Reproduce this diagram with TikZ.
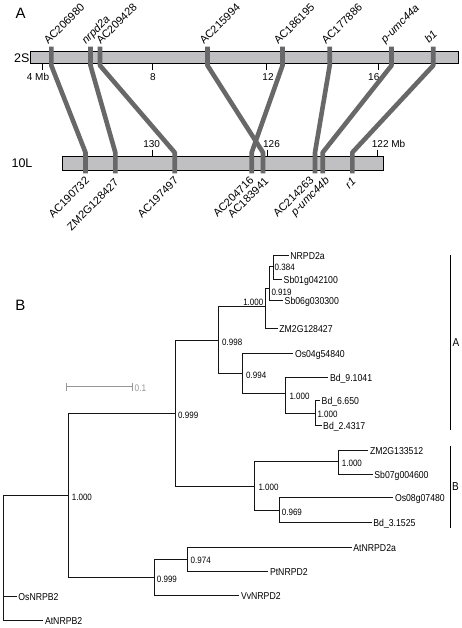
\documentclass[tikz,border=0pt]{standalone}
\usepackage{fontspec}
\setmainfont{Liberation Sans}
\newfontfamily\treefont[FakeStretch=0.87]{Liberation Sans}
\definecolor{barfill}{RGB}{192,192,194}
\definecolor{mk}{RGB}{104,104,104}
\definecolor{treeline}{RGB}{20,20,20}
\definecolor{scalegray}{RGB}{150,150,150}
\begin{document}
\begin{tikzpicture}[x=1pt,y=-1pt,
 chrbar/.style={draw=black,line width=0.9pt,fill=barfill,inner sep=0pt,outer sep=0pt},
 synline/.style={draw=mk,line width=4.6pt,line join=bevel},
 tickmark/.style={draw=black,line width=0.9pt},
 ticklab/.style={inner sep=0pt,font=\fontsize{10}{12}\selectfont},
 chrlab/.style={inner sep=0pt,font=\fontsize{12.5}{14}\selectfont},
 panellab/.style={inner sep=0pt,font=\fontsize{15}{18}\selectfont},
 uplab/.style={rotate=45,anchor=base west,inner sep=0pt,font=\fontsize{11}{13}\selectfont},
 uplabi/.style={rotate=45,anchor=base west,inner sep=0pt,font=\itshape\fontsize{11}{13}\selectfont},
 dnlab/.style={rotate=45,anchor=base east,inner sep=0pt,font=\fontsize{11}{13}\selectfont},
 dnlabi/.style={rotate=45,anchor=base east,inner sep=0pt,font=\itshape\fontsize{11}{13}\selectfont},
 treeedge/.style={draw=treeline,line width=1.2pt},
 leafnode/.style={anchor=west,inner sep=1.5pt,text height=7pt,text depth=0pt,font=\treefont\fontsize{10}{12}\selectfont},
 bootlab/.style={anchor=west,inner sep=0pt,text height=6.4pt,text depth=0pt,font=\treefont\fontsize{9.2}{11}\selectfont},
 cladelab/.style={inner sep=0pt,font=\treefont\fontsize{11.5}{13}\selectfont},
 bracket/.style={draw=black,line width=1.2pt}
]
\useasboundingbox (0,0) rectangle (462,628);
\fill[white] (0,0) rectangle (462,628);

% ---------------- Panel A ----------------
\node[panellab] (labA) at (20.7,13) {A};
\node[chrbar,minimum width=428.3pt,minimum height=12.3pt] (c2S) at (244.15,57.15) {};
\node[chrbar,minimum width=321.3pt,minimum height=13.3pt] (c10L) at (222.65,163.35) {};
\node[chrlab] (l2S) at (21.7,58) {2S};
\node[chrlab] (l10L) at (22,162.8) {10L};

\foreach \x in {42.5,152.5,266.5,378.5} \draw[tickmark] (\x,63.3) -- (\x,70.3);
\foreach \x in {152.5,267.5,377.5} \draw[tickmark] (\x,149.7) -- (\x,156.7);
\node[ticklab] (t4) at (38,77.3) {4 Mb};
\node[ticklab] (t8) at (153,77.3) {8};
\node[ticklab] (t12) at (268,77.3) {12};
\node[ticklab] (t16) at (373.8,77.3) {16};
\node[ticklab] (t130) at (151.7,144.3) {130};
\node[ticklab] (t126) at (271.5,144.3) {126};
\node[ticklab,anchor=west] (t122) at (371.7,144.3) {122 Mb};

\foreach \a/\b [count=\i] in {51.3/85.5, 90.5/115.3, 100/174.7, 207.5/263, 282.5/251.7, 329.7/315, 391.5/322.7, 433.2/352.3} {
  \coordinate (sa\i) at (\a,46.7);
  \coordinate (sb\i) at (\a,65.5);
  \coordinate (ta\i) at (\b,152.5);
  \coordinate (tb\i) at (\b,173.3);
  \draw[synline] (sa\i) -- (sb\i) -- (ta\i) -- (tb\i);
}

\node[uplab]  (m1) at (48.3,45) {AC206980};
\node[uplabi] (m2) at (86,44.5) {nrpd2a};
\node[uplab]  (m3) at (100.7,45) {AC209428};
\node[uplab]  (m4) at (204,45) {AC215994};
\node[uplab]  (m5) at (278.3,45) {AC186195};
\node[uplab]  (m6) at (326,45) {AC177886};
\node[uplabi] (m7) at (385,43.5) {p-umc44a};
\node[uplabi] (m8) at (429,43.8) {b1};

\node[dnlab]  (n1) at (90,181.5) {AC190732};
\node[dnlab]  (n2) at (119.3,183.5) {ZM2G128427};
\node[dnlab]  (n3) at (179,181.5) {AC197497};
\node[dnlab]  (n4) at (254.5,181) {AC204716};
\node[dnlab]  (n5) at (269.3,182) {AC183941};
\node[dnlab]  (n6) at (314.5,181) {AC214263};
\node[dnlabi] (n7) at (330,181.5) {p-umc44b};
\node[dnlabi] (n8) at (356.7,182) {r1};

% ---------------- Panel B ----------------
\node[panellab] (labB) at (20.5,305) {B};

% internal nodes
\coordinate (R)   at (3.5,557);
\coordinate (N0)  at (68.5,495.5);
\coordinate (N1)  at (175.5,413.5);
\coordinate (N2)  at (218.5,340.5);
\coordinate (N3)  at (265.5,306.5);
\coordinate (N4)  at (269.5,288.5);
\coordinate (N5)  at (273.5,266.5);
\coordinate (N6)  at (242.5,373.5);
\coordinate (N7)  at (285.5,393.5);
\coordinate (N8)  at (315.5,413.5);
\coordinate (N9)  at (254.5,486.5);
\coordinate (N10) at (338.5,461.5);
\coordinate (N11) at (279.5,510.5);
\coordinate (N12) at (154.5,577.5);
\coordinate (N13) at (187.5,559.5);

% leaves
\node[leafnode] (NRPD2a) at (288.7,255.5) {NRPD2a};
\node[leafnode] (Sb01) at (282,279.5) {Sb01g042100};
\node[leafnode] (Sb06) at (283,300.5) {Sb06g030300};
\node[leafnode] (ZMa) at (277.7,328.5) {ZM2G128427};
\node[leafnode] (Os04) at (293.3,353.5) {Os04g54840};
\node[leafnode] (Bd9) at (328.3,377.5) {Bd\_9.1041};
\node[leafnode] (Bd6) at (320,400.5) {Bd\_6.650};
\node[leafnode] (Bd2) at (321.5,425.5) {Bd\_2.4317};
\node[leafnode] (ZMb) at (368.3,450.5) {ZM2G133512};
\node[leafnode] (Sb07) at (372.7,474.5) {Sb07g004600};
\node[leafnode] (Os08) at (393.3,497.5) {Os08g07480};
\node[leafnode] (Bd3) at (371.7,522.5) {Bd\_3.1525};
\node[leafnode] (AtD) at (351.7,547.5) {AtNRPD2a};
\node[leafnode] (PtD) at (268.3,571.5) {PtNRPD2};
\node[leafnode] (VvD) at (239.3,595.5) {VvNRPD2};
\node[leafnode] (OsB) at (16.7,596.5) {OsNRPB2};
\node[leafnode] (AtB) at (43.3,620.5) {AtNRPB2};

% edges
\draw[treeedge] (R) |- (N0);
\draw[treeedge] (R) |- (OsB.west);
\draw[treeedge] (R) |- (AtB.west);
\draw[treeedge] (N0) |- (N1);
\draw[treeedge] (N0) |- (N12);
\draw[treeedge] (N1) |- (N2);
\draw[treeedge] (N1) |- (N9);
\draw[treeedge] (N2) |- (N3);
\draw[treeedge] (N2) |- (N6);
\draw[treeedge] (N3) |- (N4);
\draw[treeedge] (N3) |- (ZMa.west);
\draw[treeedge] (N4) |- (N5);
\draw[treeedge] (N4) |- (Sb06.west);
\draw[treeedge] (N5) |- (NRPD2a.west);
\draw[treeedge] (N5) |- (Sb01.west);
\draw[treeedge] (N6) |- (Os04.west);
\draw[treeedge] (N6) |- (N7);
\draw[treeedge] (N7) |- (Bd9.west);
\draw[treeedge] (N7) |- (N8);
\draw[treeedge] (N8) |- (Bd6.west);
\draw[treeedge] (N8) |- (Bd2.west);
\draw[treeedge] (N9) |- (N10);
\draw[treeedge] (N9) |- (N11);
\draw[treeedge] (N10) |- (ZMb.west);
\draw[treeedge] (N10) |- (Sb07.west);
\draw[treeedge] (N11) |- (Os08.west);
\draw[treeedge] (N11) |- (Bd3.west);
\draw[treeedge] (N12) |- (N13);
\draw[treeedge] (N12) |- (VvD.west);
\draw[treeedge] (N13) |- (AtD.west);
\draw[treeedge] (N13) |- (PtD.west);

% support values
\node[bootlab] (b0)  at (71.7,497) {1.000};
\node[bootlab] (b1)  at (178,415) {0.999};
\node[bootlab] (b2)  at (222,342) {0.998};
\node[bootlab,anchor=east] (b3) at (263.5,302) {1.000};
\node[bootlab] (b4)  at (271.3,292.7) {0.919};
\node[bootlab] (b5)  at (274.5,267.7) {0.384};
\node[bootlab] (b6)  at (246,375) {0.994};
\node[bootlab] (b7)  at (289.3,396.7) {1.000};
\node[bootlab] (b8)  at (317.3,414) {1.000};
\node[bootlab] (b9)  at (258.3,487.5) {1.000};
\node[bootlab] (b10) at (341.7,463.3) {1.000};
\node[bootlab] (b11) at (281.7,512.3) {0.969};
\node[bootlab] (b12) at (156.7,579) {0.999};
\node[bootlab] (b13) at (190.5,560.5) {0.974};

% scale bar
\coordinate (sc1) at (66.5,386.5);
\coordinate (sc2) at (132.5,386.5);
\draw[scalegray,line width=1.3pt] (sc1) -- (sc2);
\draw[scalegray,line width=1.1pt] ([yshift=4pt]sc1) -- ([yshift=-4pt]sc1);
\draw[scalegray,line width=1.1pt] ([yshift=4pt]sc2) -- ([yshift=-4pt]sc2);
\node[bootlab,text=scalegray,font=\treefont\fontsize{9.5}{11}\selectfont] (sclab) at (134.5,388.5) {0.1};

% clade brackets
\coordinate (cAt) at (450.5,255);
\coordinate (cAb) at (450.5,430);
\coordinate (cBt) at (450.5,445.7);
\coordinate (cBb) at (450.5,527.5);
\draw[bracket] (cAt) -- (cAb);
\draw[bracket] (cBt) -- (cBb);
\node[cladelab] (cladeA) at (456,343) {A};
\node[cladelab] (cladeB) at (455.5,486.7) {B};
\end{tikzpicture}
\end{document}
